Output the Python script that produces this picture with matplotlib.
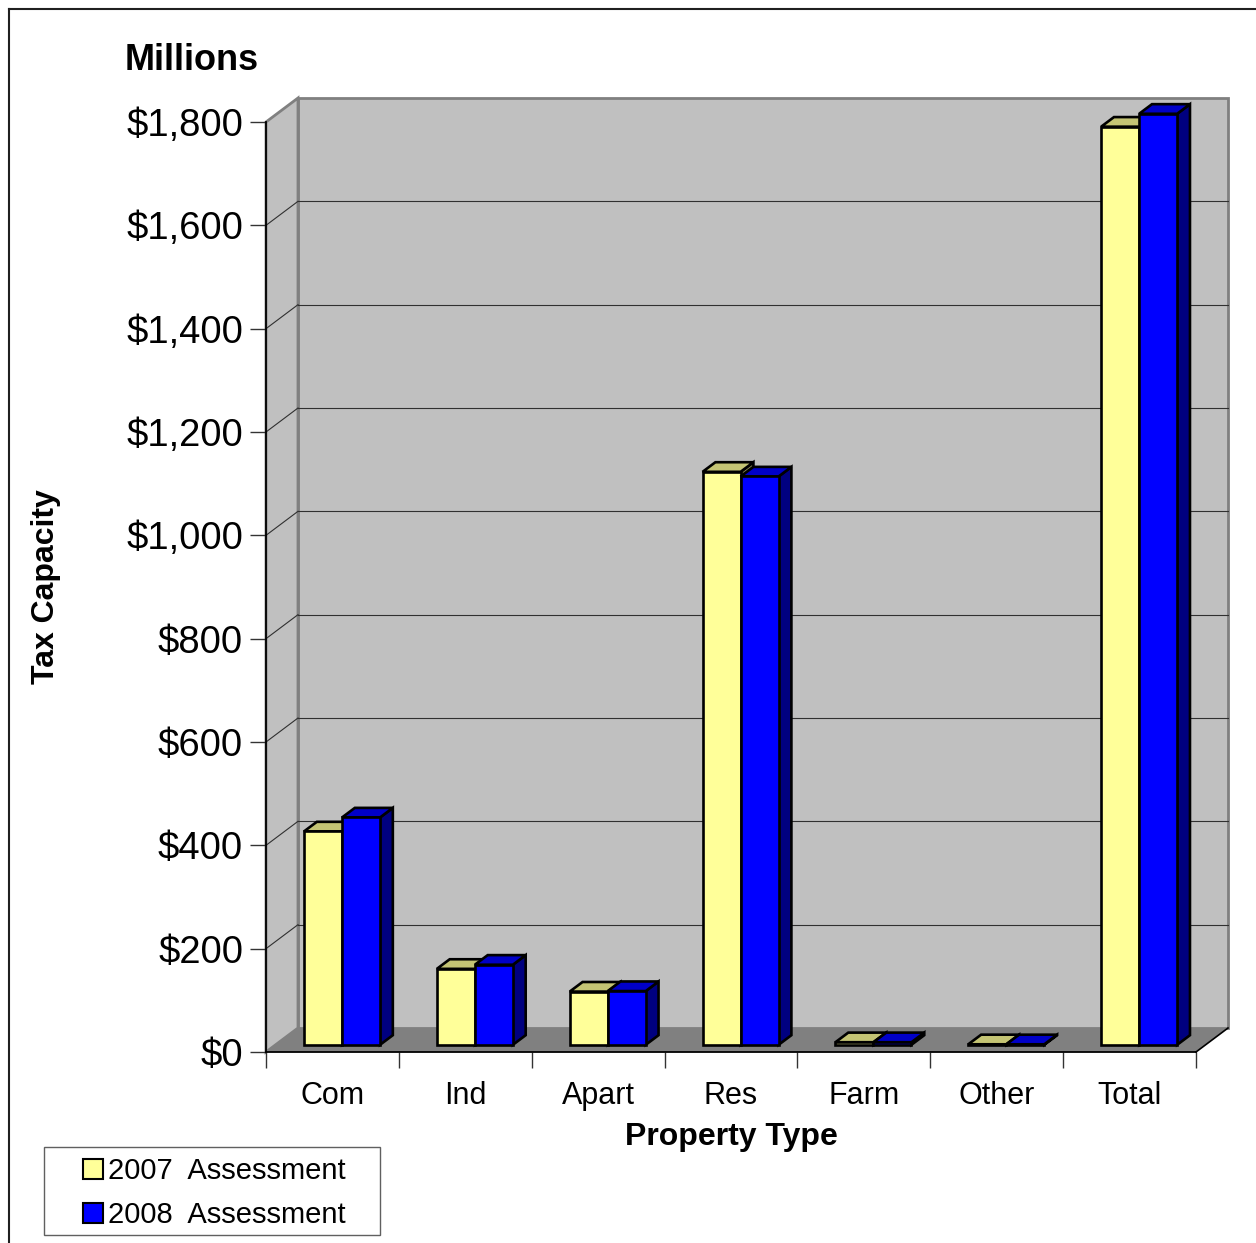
import matplotlib
matplotlib.use("Agg")
import matplotlib.pyplot as plt
from matplotlib.patches import Polygon, Rectangle, Patch
from matplotlib.lines import Line2D

plt.rcParams['font.family'] = ['Liberation Sans', 'DejaVu Sans']

# Tax capacity by property type, millions of dollars
categories = ["Com", "Ind", "Apart", "Res", "Farm", "Other", "Total"]
values_2007 = [413, 147, 103, 1109, 5, 1, 1777]
values_2008 = [440, 155, 104, 1100, 5, 1, 1802]
series_labels = ["2007  Assessment", "2008  Assessment"]
y_ticks = [0, 200, 400, 600, 800, 1000, 1200, 1400, 1600, 1800]
y_tick_labels = ["$0", "$200", "$400", "$600", "$800", "$1,000",
                 "$1,200", "$1,400", "$1,600", "$1,800"]

W, H = 1256, 1243
fig = plt.figure(figsize=(W / 100, H / 100), dpi=100)
fig.patch.set_facecolor("white")


def fx(px):
    return px / W


def fy(py):
    return 1 - py / H


# front plane of the plot box
ax = fig.add_axes([fx(266), fy(1052), 930 / W, 930 / H])
n = len(categories)
ax.set_xlim(0, n)
ax.set_ylim(0, 1800)
ax.patch.set_visible(False)

px_per_cat = 930 / n
px_per_val = 930 / 1800
# depth of the pseudo-3D box, expressed in data units
DX = 32 / px_per_cat
DY = 24 / px_per_val


def P(x, y, f):
    """Project a point at depth fraction f (0 front, 1 back)."""
    return (x + f * DX, y + f * DY)


top = 1800
wall_c = "#C0C0C0"
wall_edge = "#808080"

# back wall
ax.add_patch(Polygon([P(0, 0, 1), P(n, 0, 1), P(n, top, 1), P(0, top, 1)],
                     closed=True, fc=wall_c, ec=wall_edge, lw=2,
                     zorder=0.5, clip_on=False))
# left wall
ax.add_patch(Polygon([P(0, 0, 0), P(0, 0, 1), P(0, top, 1), P(0, top, 0)],
                     closed=True, fc=wall_c, ec=wall_edge, lw=2,
                     zorder=0.5, clip_on=False))
# floor
ax.add_patch(Polygon([P(0, 0, 0), P(n, 0, 0), P(n, 0, 1), P(0, 0, 1)],
                     closed=True, fc="#808080", ec="none",
                     zorder=0.8, clip_on=False))
xa, ya = zip(P(n, 0, 0), P(n, 0, 1))
ax.add_line(Line2D(xa, ya, color="black", lw=1.2, zorder=0.9, clip_on=False))

# gridlines on back and left walls
for v in y_ticks[1:-1]:
    xa, ya = zip(P(0, v, 1), P(n, v, 1))
    ax.add_line(Line2D(xa, ya, color="#303030", lw=0.8, zorder=0.7, clip_on=False))
    xa, ya = zip(P(0, v, 0), P(0, v, 1))
    ax.add_line(Line2D(xa, ya, color="#303030", lw=0.8, zorder=0.7, clip_on=False))

# bars
BW = 38 / px_per_cat
F0, F1 = 0.3, 0.7
styles = [
    dict(front="#FFFF99", top="#C4C474", side="#80804C"),
    dict(front="#0000FF", top="#0000C8", side="#000080"),
]
z = 3
for i in range(n):
    for s, vals in enumerate([values_2007, values_2008]):
        v = vals[i]
        x0 = i + 0.5 - BW + s * BW
        x1 = x0 + BW
        st = styles[s]
        side = [P(x1, 0, F0), P(x1, v, F0), P(x1, v, F1), P(x1, 0, F1)]
        topf = [P(x0, v, F0), P(x1, v, F0), P(x1, v, F1), P(x0, v, F1)]
        front = [P(x0, 0, F0), P(x1, 0, F0), P(x1, v, F0), P(x0, v, F0)]
        for poly, c in ((side, st["side"]), (topf, st["top"]), (front, st["front"])):
            ax.add_patch(Polygon(poly, closed=True, fc=c, ec="black", lw=1.9,
                                 joinstyle="miter", zorder=z, clip_on=False))
            z += 0.01

# axes lines and ticks
for sp in ("top", "right"):
    ax.spines[sp].set_visible(False)
for sp in ("left", "bottom"):
    ax.spines[sp].set_color("black")
    ax.spines[sp].set_linewidth(1.3)
    ax.spines[sp].set_zorder(2)

ax.set_yticks(y_ticks)
ax.set_yticklabels(y_tick_labels, fontsize=27.5)
ax.tick_params(axis="y", direction="out", length=11.5, width=1.0,
               color="#333333", pad=5)

ax.set_xticks(range(n + 1))
ax.set_xticklabels([])
ax.set_xticks([i + 0.5 for i in range(n)], minor=True)
ax.set_xticklabels(categories, minor=True, fontsize=22)
ax.tick_params(axis="x", which="major", direction="out", length=11.5,
               width=1.0, color="#333333")
ax.tick_params(axis="x", which="minor", length=0, pad=21)

# titles
fig.text(fx(731), fy(1137), "Property Type", fontsize=23, fontweight="bold",
         ha="center", va="center")
fig.text(fx(46), fy(587), "Tax Capacity", fontsize=23, fontweight="bold",
         ha="center", va="center", rotation=90)
fig.text(fx(125), fy(60), "Millions", fontsize=26, fontweight="bold",
         ha="left", va="center")

# legend with its own frame
fig.patches.append(Rectangle((fx(44), fy(1235)), (380 - 44) / W, (1235 - 1147) / H,
                             transform=fig.transFigure, fc="white", ec="#606060",
                             lw=1.0, zorder=1))
handles = [Patch(fc=styles[0]["front"], ec="black", lw=1.5),
           Patch(fc=styles[1]["front"], ec="black", lw=1.5)]
leg = fig.legend(handles=handles, labels=series_labels, loc="center left",
                 bbox_to_anchor=(fx(83), fy(1193)), bbox_transform=fig.transFigure,
                 frameon=False, fontsize=21, handlelength=0.7, handleheight=0.7,
                 handletextpad=0.15, labelspacing=0.55, borderpad=0,
                 borderaxespad=0)
leg.set_zorder(2)

# outer chart border
fig.add_artist(Line2D([fx(8.5), fx(8.5)], [fy(8.5), 0], transform=fig.transFigure,
                      color="#202020", lw=1.5))
fig.add_artist(Line2D([fx(8.5), 1], [fy(8.5), fy(8.5)], transform=fig.transFigure,
                      color="#202020", lw=1.5))

fig.savefig("out.png", dpi=100)
